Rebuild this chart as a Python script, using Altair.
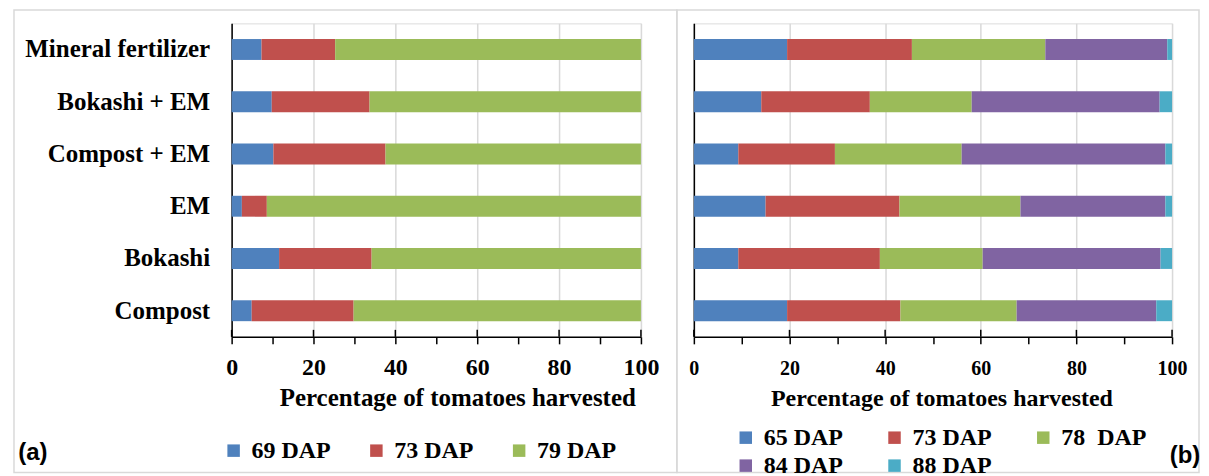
import altair as alt
import pandas as pd

# ---------------- data ----------------
treatments = ["Mineral fertilizer", "Bokashi + EM", "Compost + EM", "EM", "Bokashi", "Compost"]

a_series = ["69 DAP", "73 DAP", "79 DAP"]
a_colors = ["#4F81BD", "#C0504D", "#9BBB59"]
a_69 = [7.3, 9.8, 10.2, 2.5, 11.6, 4.9]
a_73 = [18.0, 23.9, 27.4, 6.1, 22.6, 24.9]
a_79 = [74.7, 66.3, 62.4, 91.4, 65.8, 70.2]

b_series = ["65 DAP", "73 DAP", "78\u00a0 DAP", "84 DAP", "88 DAP"]
b_colors = ["#4F81BD", "#C0504D", "#9BBB59", "#8064A2", "#4BACC6"]
b_65 = [19.5, 14.1, 9.3, 15.0, 9.3, 19.5]
b_73 = [26.1, 22.7, 20.2, 28.0, 29.6, 23.7]
b_78 = [27.9, 21.3, 26.5, 25.3, 21.5, 24.3]
b_84 = [25.5, 39.3, 42.6, 30.3, 37.2, 29.2]
b_88 = [1.0, 2.6, 1.4, 1.4, 2.4, 3.3]

x_ticks_all = [0, 10, 20, 30, 40, 50, 60, 70, 80, 90, 100]
x_ticks_major = [0, 20, 40, 60, 80, 100]
x_title = "Percentage of tomatoes harvested"
panel_labels = ["(a)", "(b)"]

SERIF = "Liberation Serif"
H = 314


def to_long(series, values):
    rows = []
    for si, (name, vals) in enumerate(zip(series, values)):
        for t, v in zip(treatments, vals):
            rows.append({"treatment": t, "series": name, "order": si, "value": v})
    return pd.DataFrame(rows)


def panel(df, series, colors, width, show_labels, tick_font, label_pad, title_font,
          title_x, legend_x, legend_y, col_pad, label_text, label_x, label_y, frame):
    if show_labels:
        y_axis = alt.Axis(title=None, ticks=False, domainColor="black", domainWidth=1.5,
                          labelFont=SERIF, labelFontWeight="bold", labelFontSize=25,
                          labelColor="black", labelPadding=22, labelLimit=400,
                          minExtent=218, maxExtent=218, grid=False)
    else:
        y_axis = alt.Axis(title=None, ticks=False, labels=False, domainColor="black",
                          domainWidth=1.5, minExtent=0, maxExtent=0, grid=False)

    x_axis = alt.Axis(
        values=x_ticks_all,
        labelExpr="datum.value % 20 === 0 ? datum.label : ''",
        labelOverlap=False, labelFlush=False,
        tickSize=7, tickColor="black", tickWidth=1.5,
        domainColor="black", domainWidth=1.5,
        grid=True, gridColor="#d9d9d9", gridWidth=1.5,
        gridOpacity={"condition": {"test": "datum.value % 20 === 0", "value": 1}, "value": 0},
        labelFont=SERIF, labelFontWeight="bold", labelFontSize=tick_font,
        labelColor="black", labelPadding=label_pad,
        title=x_title, titleFont=SERIF, titleFontWeight="bold", titleFontSize=title_font,
        titleColor="black", titleX=title_x, titleY=69, titleBaseline="alphabetic",
        titleAlign="center",
    )

    bars = alt.Chart(df).mark_bar().encode(
        x=alt.X("value:Q", stack="zero",
                scale=alt.Scale(domain=[0, 100], nice=False, zero=True), axis=x_axis),
        y=alt.Y("treatment:N", sort=treatments,
                scale=alt.Scale(paddingInner=0.6, paddingOuter=0.3), axis=y_axis),
        color=alt.Color("series:N", sort=series,
                        scale=alt.Scale(domain=series, range=colors),
                        legend=alt.Legend(title=None, orient="none", legendX=legend_x,
                                          legendY=legend_y, direction="horizontal",
                                          columns=3, symbolType="square", symbolSize=156,
                                          symbolStrokeWidth=0, labelFont=SERIF,
                                          labelFontWeight="bold", labelFontSize=24,
                                          labelColor="black", labelOffset=6,
                                          columnPadding=col_pad, rowPadding=4, padding=0,
                                          labelLimit=400)),
        order=alt.Order("order:Q", sort="ascending"),
    )

    # inner half of the major (cross) tick marks, placed through the x scale
    inner_ticks = alt.Chart(pd.DataFrame({"value": x_ticks_major})).mark_rule(
        color="black", strokeWidth=1.5,
    ).encode(x=alt.X("value:Q"), y=alt.value(H - 7), y2=alt.value(H))

    tag = alt.Chart(pd.DataFrame({"label": [label_text]})).mark_text(
        font="Liberation Sans", fontWeight="bold", fontSize=24, align="center",
        baseline="middle", color="black",
    ).encode(x=alt.value(label_x), y=alt.value(label_y), text="label:N")

    box = alt.Chart(pd.DataFrame({"f": [0]})).mark_rect(
        fillOpacity=0, stroke="#d9d9d9", strokeWidth=1.5,
    ).encode(x=alt.value(frame[0]), x2=alt.value(frame[1]),
             y=alt.value(frame[2]), y2=alt.value(frame[3]))

    return alt.layer(box, bars, inner_ticks, tag).properties(width=width, height=H)


df_a = to_long(a_series, [a_69, a_73, a_79])
df_b = to_long(b_series, [b_65, b_73, b_78, b_84, b_88])

left = panel(df_a, a_series, a_colors, 410, True, 24, 12, 25, 226, -10, 416, 33,
             panel_labels[0], -199, 430, (-218, 446, -13.5, 450))
right = panel(df_b, b_series, b_colors, 479, False, 20, 15, 24, 248, 40, 403, 39,
              panel_labels[1], 492, 433, (-17, 506, -13.5, 450))

chart = alt.hconcat(left, right, spacing=53, bounds="flush").resolve_scale(
    color="independent", y="independent", x="independent"
).properties(
    padding={"left": 4, "top": 0, "right": 0, "bottom": 0}
).configure_view(stroke=None).configure(background="white")

chart.save("out.html", embed_options={"renderer": "svg", "actions": False})
